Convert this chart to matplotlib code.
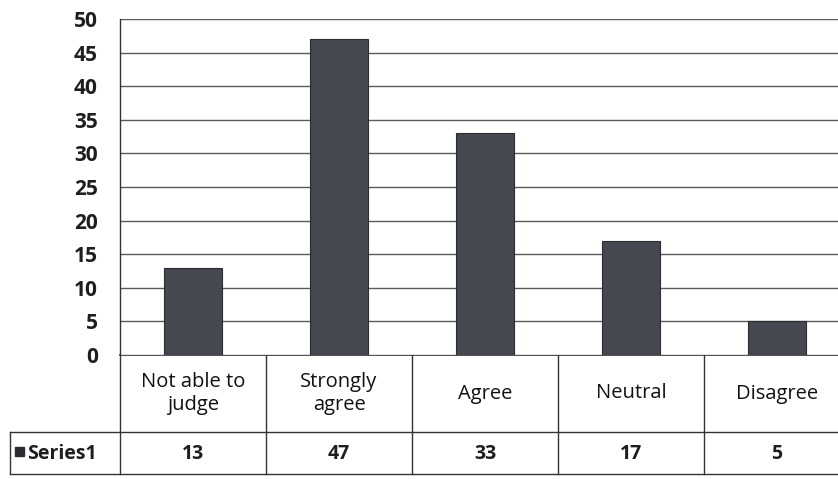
import matplotlib
matplotlib.use("Agg")
from matplotlib import pyplot as plt
from matplotlib.lines import Line2D
from matplotlib.patches import Rectangle

categories = ["Not able to\njudge", "Strongly\nagree", "Agree", "Neutral", "Disagree"]
series1 = [13, 47, 33, 17, 5]
series_name = "Series1"
yticks = [0, 5, 10, 15, 20, 25, 30, 35, 40, 45, 50]

W, H = 838, 479
plt.rcParams['font.family'] = ['Open Sans', 'DejaVu Sans']

fig = plt.figure(figsize=(W/100, H/100), dpi=100)
fig.patch.set_facecolor("white")

# plot area in pixels
left, right, top, bottom = 120, 850, 19, 355
ax = fig.add_axes([left/W, 1-bottom/H, (right-left)/W, (bottom-top)/H])
x = list(range(len(categories)))
ax.bar(x, series1, width=0.4, color="#45484f", edgecolor="#2a2c30", linewidth=0.8, zorder=3)
ax.set_xlim(-0.5, len(categories)-0.5)
ax.set_ylim(0, 50)
ax.set_yticks(yticks)
ax.set_yticklabels([str(t) for t in yticks], fontsize=15, fontweight="bold", color="#1e1e1e")
ax.tick_params(axis="y", length=0, pad=16)
ax.set_xticks([])
ax.grid(axis="y", color="#5a5a5a", linewidth=1.0, zorder=0)
for s in ["top", "right", "bottom"]:
    ax.spines[s].set_visible(False)
ax.spines["left"].set_color("#333333")
ax.spines["left"].set_linewidth(1.0)

# data table below the plot, in pixel coordinates
tab = fig.add_axes([0, 0, 1, 1], zorder=-1)
tab.set_xlim(0, W)
tab.set_ylim(H, 0)
tab.axis("off")
row1_bot, row2_bot = 432, 474
colw = (right-left)/len(categories)
lc = "#333333"
tab.add_line(Line2D([left, W], [bottom, bottom], color=lc, lw=1.2))
tab.add_line(Line2D([10, W], [row1_bot, row1_bot], color=lc, lw=1.0))
tab.add_line(Line2D([10, W], [row2_bot, row2_bot], color=lc, lw=1.0))
tab.add_line(Line2D([10, 10], [row1_bot, row2_bot], color=lc, lw=1.0))
for i in range(len(categories)):
    xl = left + i*colw
    tab.add_line(Line2D([xl, xl], [bottom, row2_bot], color=lc, lw=1.0))
    tab.text(xl+colw/2, (bottom+row1_bot)/2, categories[i], ha="center", va="center",
             fontsize=14.5, color="#111111", linespacing=1.15)
    tab.text(xl+colw/2, (row1_bot+row2_bot)/2 + 1, str(series1[i]), ha="center", va="center",
             fontsize=14, fontweight="bold", color="#1e1e1e")
tab.add_patch(Rectangle((15, 447), 9, 9, color="#2a2c30"))
tab.text(27, (row1_bot+row2_bot)/2 + 1, series_name, ha="left", va="center",
         fontsize=14, fontweight="bold", color="#1e1e1e")

fig.savefig("out.png", dpi=100, facecolor="white")
